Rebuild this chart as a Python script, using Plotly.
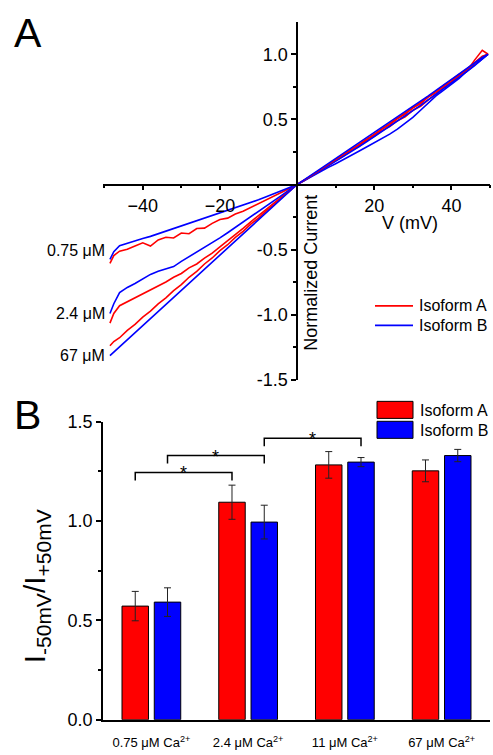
import plotly.graph_objects as go

W, H = 493, 755
FONT = "Arial, Liberation Sans, sans-serif"

# ---------------- Panel A data (normalized I-V curves) ----------------
voltage = [-48.5, -47.5, -46, -44, -42, -40, -38, -36, -34, -32, -30, -28, -26, -24, -22, -20,
           -18, -16, -14, -12, -10, -8, -6, -4, -2, 0,
           2, 4, 6, 8, 10, 12, 14, 16, 18, 20, 22, 24, 26, 28, 30, 32, 34, 36, 38, 40,
           42, 44, 46, 48, 49.5]

isoA_075 = [-0.605, -0.545, -0.512, -0.497, -0.472, -0.448, -0.472, -0.425, -0.405, -0.410, -0.372, -0.378,
            -0.338, -0.335, -0.298, -0.268, -0.258, -0.226, -0.205, -0.176, -0.153, -0.121, -0.092, -0.061,
            -0.031, 0.0,
            0.034, 0.070, 0.108, 0.142, 0.183, 0.218, 0.260, 0.292, 0.336, 0.370, 0.414, 0.445, 0.490, 0.520,
            0.570, 0.600, 0.650, 0.692, 0.745, 0.785, 0.835, 0.870, 0.955, 1.030, 1.000]
isoB_075 = [-0.575, -0.515, -0.470, -0.450, -0.432, -0.414, -0.398, -0.378, -0.357, -0.338, -0.320, -0.300,
            -0.281, -0.262, -0.242, -0.221, -0.200, -0.180, -0.160, -0.139, -0.117, -0.094, -0.071, -0.047,
            -0.024, 0.0,
            0.032, 0.066, 0.098, 0.130, 0.160, 0.190, 0.222, 0.255, 0.288, 0.320, 0.352, 0.387, 0.425, 0.468,
            0.515, 0.570, 0.625, 0.680, 0.725, 0.770, 0.815, 0.870, 0.915, 0.960, 1.000]
isoA_24 = [-1.064, -0.990, -0.930, -0.900, -0.868, -0.843, -0.812, -0.782, -0.748, -0.712, -0.683, -0.640,
           -0.610, -0.565, -0.527, -0.478, -0.432, -0.385, -0.336, -0.286, -0.237, -0.190, -0.141, -0.094,
           -0.047, 0.0,
           0.037, 0.070, 0.112, 0.145, 0.190, 0.222, 0.268, 0.300, 0.347, 0.378, 0.427, 0.458, 0.507, 0.538,
           0.590, 0.620, 0.672, 0.705, 0.757, 0.790, 0.845, 0.880, 0.930, 0.980, 1.000]
isoB_24 = [-0.990, -0.915, -0.830, -0.790, -0.760, -0.725, -0.690, -0.665, -0.645, -0.630, -0.590, -0.555,
           -0.520, -0.485, -0.450, -0.410, -0.370, -0.330, -0.290, -0.250, -0.208, -0.166, -0.125, -0.083,
           -0.042, 0.0,
           0.032, 0.068, 0.104, 0.140, 0.177, 0.214, 0.252, 0.290, 0.328, 0.367, 0.406, 0.446, 0.486, 0.526,
           0.567, 0.608, 0.650, 0.692, 0.735, 0.778, 0.822, 0.866, 0.912, 0.960, 1.000]
isoA_67 = [-1.237, -1.205, -1.176, -1.120, -1.074, -1.018, -0.972, -0.916, -0.870, -0.814, -0.768, -0.712,
           -0.666, -0.610, -0.564, -0.508, -0.462, -0.406, -0.360, -0.304, -0.258, -0.202, -0.156, -0.100,
           -0.053, 0.0,
           0.036, 0.074, 0.113, 0.150, 0.190, 0.229, 0.267, 0.308, 0.346, 0.387, 0.426, 0.468, 0.506, 0.549,
           0.589, 0.631, 0.671, 0.715, 0.756, 0.800, 0.842, 0.887, 0.935, 0.985, 1.000]
isoB_67 = [-1.314, -1.287, -1.247, -1.192, -1.138, -1.084, -1.030, -0.976, -0.921, -0.867, -0.813, -0.759,
           -0.705, -0.650, -0.596, -0.542, -0.488, -0.434, -0.379, -0.325, -0.271, -0.217, -0.163, -0.108,
           -0.054, 0.0,
           0.040, 0.080, 0.120, 0.158, 0.197, 0.236, 0.276, 0.315, 0.355, 0.395, 0.435, 0.476, 0.516, 0.557,
           0.598, 0.640, 0.681, 0.723, 0.765, 0.807, 0.849, 0.892, 0.935, 0.975, 1.000]

conc_labels = ["0.75 \u03bcM", "2.4 \u03bcM", "67 \u03bcM"]
series_names = ["Isoform A", "Isoform B"]

# ---------------- Panel B data (bar chart) ----------------
bar_categories = ["0.75 \u03bcM Ca<sup>2+</sup>", "2.4 \u03bcM Ca<sup>2+</sup>",
                  "11 \u03bcM Ca<sup>2+</sup>", "67 \u03bcM Ca<sup>2+</sup>"]
ratio_A = [0.572, 1.095, 1.283, 1.253]
err_A = [0.074, 0.086, 0.067, 0.055]
ratio_B = [0.592, 0.995, 1.297, 1.330]
err_B = [0.072, 0.085, 0.023, 0.031]
# significance brackets: (group_i, series_i, group_j, series_j, bracket level)
sig_pairs = [(0, 0, 1, 0, 1.245), (0, 1, 1, 1, 1.330), (1, 1, 2, 1, 1.417)]

RED = "#ff0000"
BLUE = "#0000ff"

fig = go.Figure()

curve_sets = [(isoA_075, RED), (isoB_075, BLUE), (isoA_24, RED), (isoB_24, BLUE),
              (isoA_67, RED), (isoB_67, BLUE)]
for ys, col in curve_sets:
    fig.add_trace(go.Scatter(x=voltage, y=ys, mode="lines", line=dict(color=col, width=1.6),
                             showlegend=False, xaxis="x", yaxis="y", hoverinfo="skip"))

fig.add_trace(go.Bar(x=[0, 1, 2, 3], y=ratio_A, name=series_names[0], marker=dict(color=RED, line=dict(color="black", width=1)),
                     error_y=dict(type="data", array=err_A, color="#222222", thickness=1, width=3.5),
                     xaxis="x2", yaxis="y2", showlegend=False))
fig.add_trace(go.Bar(x=[0, 1, 2, 3], y=ratio_B, name=series_names[1], marker=dict(color=BLUE, line=dict(color="black", width=1)),
                     error_y=dict(type="data", array=err_B, color="#222222", thickness=1, width=3.5),
                     xaxis="x2", yaxis="y2", showlegend=False))

BARGAP = 0.333
slot = (1 - BARGAP) / 2
offsets = [-slot / 2, slot / 2]

def px_x(p):
    return p / W

def px_y(p):
    return 1 - p / H

# domains
xdom = [px_x(103), px_x(490)]
xA_range = [-50.3, 50]
yA_range = [-1.5, 1.25]
yA_dom = [px_y(380), px_y(12)]
zero_x_px = 103 + (0 - xA_range[0]) / (xA_range[1] - xA_range[0]) * (490 - 103)
zero_y_px = 12 + (yA_range[1] - 0) / (yA_range[1] - yA_range[0]) * (380 - 12)

tickfont = dict(family=FONT, size=18, color="black")

fig.update_layout(
    width=W, height=H, margin=dict(l=0, r=0, t=0, b=0), autosize=False,
    paper_bgcolor="white", plot_bgcolor="white",
    barmode="group", bargap=BARGAP, bargroupgap=0.18,
    font=dict(family=FONT, color="black"),
    xaxis=dict(domain=xdom, range=xA_range, anchor="free", position=px_y(zero_y_px),
               showline=True, linecolor="black", linewidth=1.5, showgrid=False, zeroline=False,
               ticks="outside", ticklen=5, tickwidth=1.5, tickcolor="black",
               tickvals=[-40, -20, 20, 40], tickfont=tickfont,
               minor=dict(tickvals=[-50, -30, -10, 10, 30, 50], ticklen=3, tickwidth=1.5, tickcolor="black", ticks="outside")),
    yaxis=dict(domain=yA_dom, range=yA_range, anchor="free", position=px_x(zero_x_px),
               showline=True, linecolor="black", linewidth=1.5, showgrid=False, zeroline=False,
               ticks="outside", ticklen=5, tickwidth=1.5, tickcolor="black",
               tickvals=[-1.5, -1.0, -0.5, 0.5, 1.0], ticktext=["-1.5", "-1.0", "-0.5", "0.5", "1.0"],
               tickfont=tickfont,
               minor=dict(tickvals=[-1.25, -0.75, -0.25, 0.25, 0.75], ticklen=3, tickwidth=1.5, tickcolor="black", ticks="outside")),
    xaxis2=dict(domain=xdom, range=[-0.5, 3.5], anchor="y2",
                showline=True, linecolor="black", linewidth=1.5, showgrid=False, zeroline=False,
                ticks="", tickvals=[0, 1, 2, 3], ticktext=bar_categories, ticklabelstandoff=10,
                tickfont=dict(family=FONT, size=13, color="black")),
    yaxis2=dict(domain=[px_y(729), px_y(423)], range=[0, 1.5], anchor="x2",
                showline=True, linecolor="black", linewidth=1.5, showgrid=False, zeroline=False,
                ticks="outside", ticklen=5, tickwidth=1.5, tickcolor="black",
                tickvals=[0, 0.5, 1.0, 1.5], ticktext=["0.0", "0.5", "1.0", "1.5"], tickfont=tickfont,
                minor=dict(tickvals=[0.25, 0.75, 1.25], ticklen=3, tickwidth=1.5, tickcolor="black", ticks="outside")),
)

shapes = []
annotations = []

# significance brackets
for gi, si, gj, sj, lvl in sig_pairs:
    xa = gi + offsets[si]
    xb = gj + offsets[sj]
    drop = 0.04
    shapes.append(dict(type="path", xref="x2", yref="y2",
                       path=f"M {xa} {lvl - drop} L {xa} {lvl} L {xb} {lvl} L {xb} {lvl - drop}",
                       line=dict(color="black", width=1.5)))
    annotations.append(dict(x=(xa + xb) / 2, y=lvl - 0.005, xref="x2", yref="y2", text="*", showarrow=False,
                            xanchor="center", yanchor="middle", font=dict(family=FONT, size=18, color="black")))

# Panel A legend (lines)
for i, (name, col) in enumerate(zip(series_names, [RED, BLUE])):
    yy = px_y(304 + 20 * i)
    shapes.append(dict(type="line", xref="paper", yref="paper", x0=px_x(375), x1=px_x(413), y0=yy, y1=yy,
                       line=dict(color=col, width=1.8)))
    annotations.append(dict(x=px_x(417), y=yy, xref="paper", yref="paper", text=name, showarrow=False,
                            xanchor="left", yanchor="middle", font=dict(family=FONT, size=16, color="black")))

# Panel B legend (boxes)
for i, (name, col) in enumerate(zip(series_names, [RED, BLUE])):
    y0 = 402 + 20.5 * i
    shapes.append(dict(type="rect", xref="paper", yref="paper", x0=px_x(377), x1=px_x(413),
                       y0=px_y(y0 + 17.5), y1=px_y(y0), fillcolor=col, line=dict(color="black", width=1)))
    annotations.append(dict(x=px_x(418), y=px_y(y0 + 9), xref="paper", yref="paper", text=name, showarrow=False,
                            xanchor="left", yanchor="middle", font=dict(family=FONT, size=16, color="black")))

# concentration labels in panel A
for lab, ypx in zip(conc_labels, [247, 312, 355]):
    annotations.append(dict(x=px_x(107), y=px_y(ypx), xref="paper", yref="paper", text=lab, showarrow=False,
                            xanchor="right", yanchor="middle", font=dict(family=FONT, size=16, color="black")))

# axis titles and panel letters
annotations += [
    dict(x=px_x(410), y=px_y(219), xref="paper", yref="paper", text="V (mV)", showarrow=False,
         xanchor="center", yanchor="middle", font=dict(family=FONT, size=18, color="black")),
    dict(x=px_x(311), y=px_y(270), xref="paper", yref="paper", text="Normalized Current", showarrow=False,
         textangle=-90, xanchor="center", yanchor="middle", font=dict(family=FONT, size=18, color="black")),
    dict(x=px_x(36), y=px_y(592), xref="paper", yref="paper", text="I<sub>-50mV</sub>/I<sub>+50mV</sub>",
         showarrow=False, textangle=-90, xanchor="center", yanchor="middle",
         font=dict(family=FONT, size=30, color="black")),
    dict(x=px_x(12), y=px_y(24), xref="paper", yref="paper", text="A", showarrow=False,
         xanchor="left", yanchor="middle", font=dict(family=FONT, size=41, color="black")),
    dict(x=px_x(12), y=px_y(416), xref="paper", yref="paper", text="B", showarrow=False,
         xanchor="left", yanchor="middle", font=dict(family=FONT, size=41, color="black")),
]

fig.update_layout(shapes=shapes, annotations=annotations)

fig.write_html("out.html", config={"displayModeBar": False},
               post_script="document.body.style.margin='0px';document.body.style.overflow='hidden';")
